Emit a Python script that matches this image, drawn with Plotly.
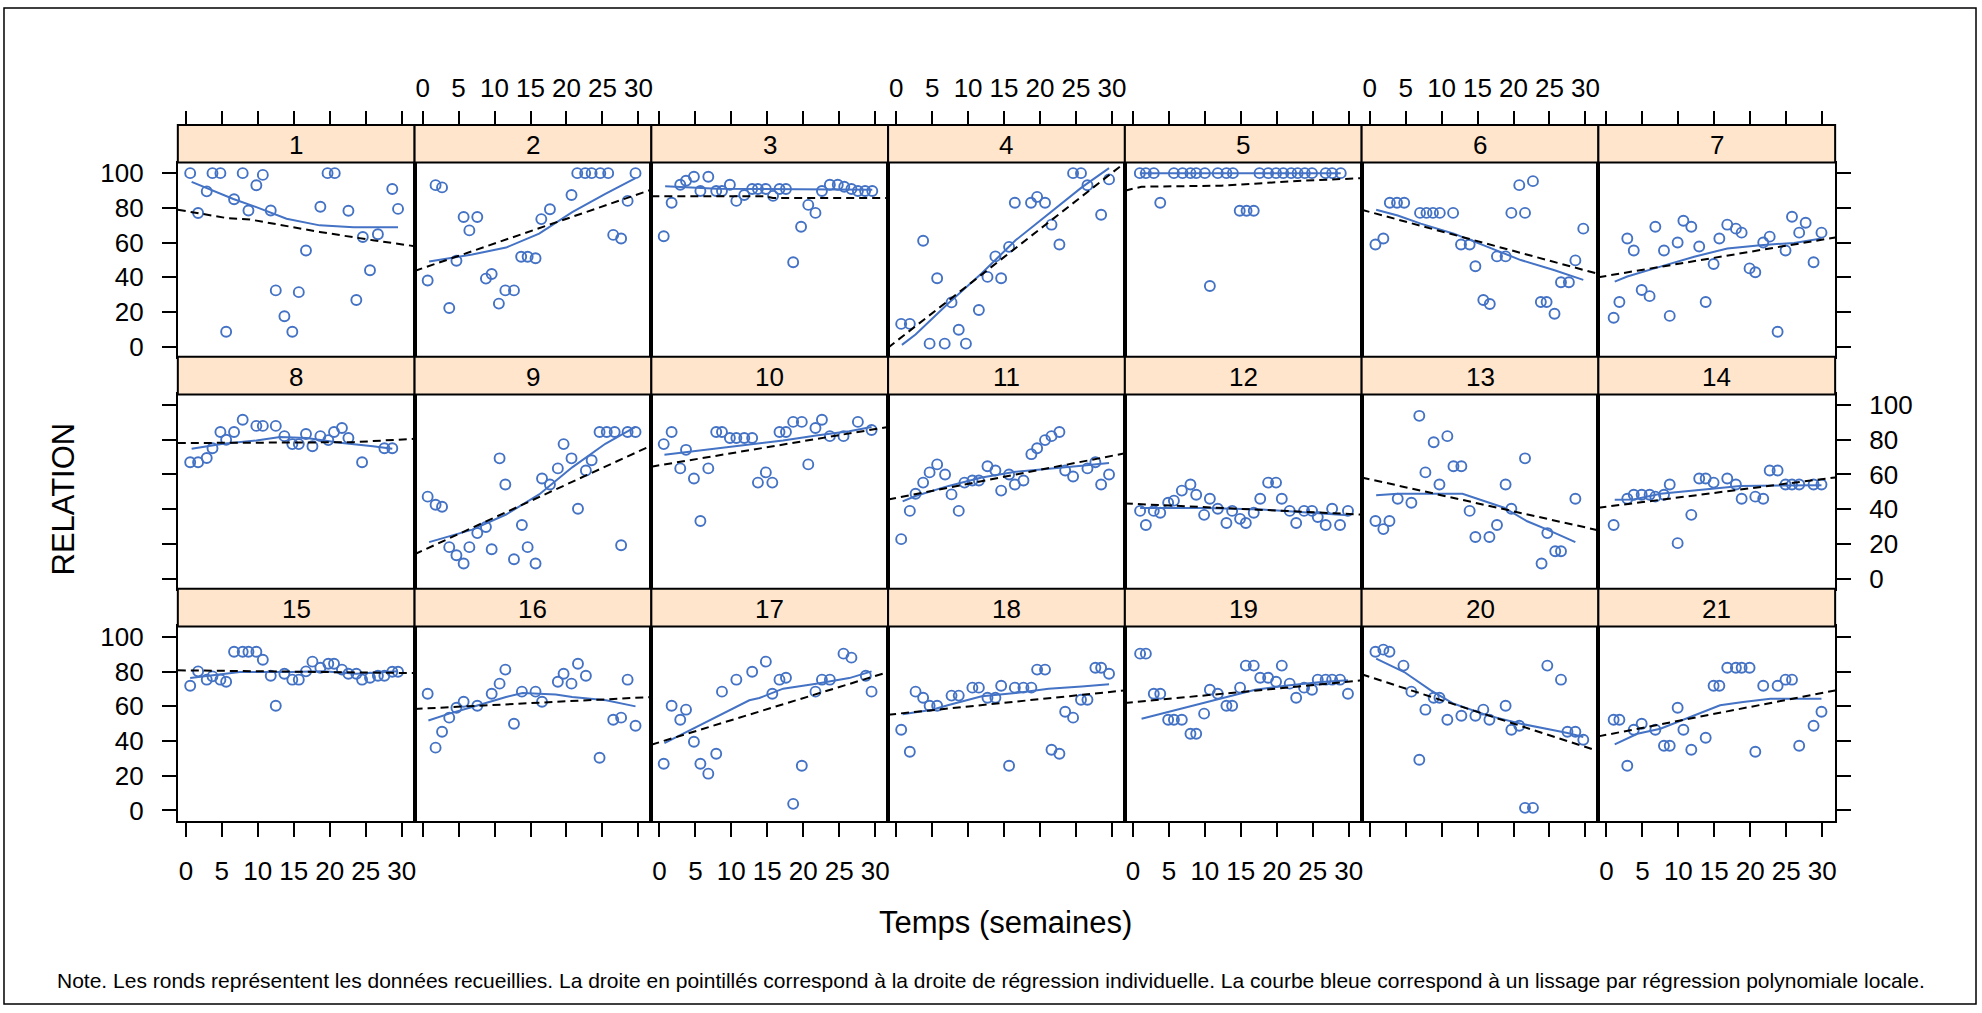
import plotly.graph_objects as go

# ---------------- data ----------------
t01 = [0.6,1.7,2.9,3.7,4.8,5.6,6.7,7.9,8.7,9.8,10.7,11.8,12.5,13.7,14.8,15.7,16.7,18.7,19.7,20.7,22.6,23.7,24.6,25.6,26.7,28.7,29.5]
r01 = [100,77,89.5,100,100,8.6,85,100,78.5,93,99,78.5,32.4,17.5,8.6,31.4,55.4,80.6,100,100,78.3,26.9,63.2,44,64.8,90.9,79.4]
lt01 = [0.8,2.9,6.6,9.8,14,18.6,23.3,29.5]
lr01 = [95,91.4,85.1,80.4,73.7,69.9,68.8,68.8]
dt01 = [-1.12,5.7,8.9,18.6,26,31.8]
dr01 = [78.9,74.1,73.3,66.1,61.3,57.9]

t02 = [0.7,1.8,2.7,3.7,4.7,5.7,6.5,7.6,8.8,9.6,10.6,11.5,12.7,13.7,14.6,15.7,16.5,17.7,20.7,21.5,22.6,23.5,24.7,25.8,26.5,27.6,28.5,29.6]
r02 = [38.1,93.1,91.8,22.3,49.5,74.7,67,74.7,39.2,41.9,24.8,32.4,32.4,51.8,51.8,50.9,73.5,79.2,87.4,100,100,100,100,100,64.4,62.3,84,100]
lt02 = [0.9,4.6,6.9,11.6,16.2,20.8,25.4,29.6]
lr02 = [49.1,51.8,53.1,57.1,65.1,77.5,88,97.1]
dt02 = [-1.12,31.8]
dr02 = [43.6,90.5]

t03 = [0.6,1.7,2.9,3.7,4.8,5.7,6.8,7.9,8.7,9.8,10.7,11.8,12.9,13.7,14.8,15.8,16.7,17.6,18.6,19.7,20.7,21.7,22.6,23.7,24.8,25.7,26.7,27.6,28.6,29.6]
r03 = [63.6,82.9,93.3,95.6,97.9,89.7,97.9,89.7,89.7,93.3,84,87.4,90.9,90.9,90.9,86.9,90.9,90.9,48.6,69.1,81.7,77.1,89.7,93.3,93.3,92.2,90.9,89.7,89.7,89.7]
lt03 = [0.8,8,29.6]
lr03 = [92.4,91,90.5]
dt03 = [-1.12,14.5,15.8,31.8]
dr03 = [86.7,86.7,85.7,85.7]

t04 = [0.7,1.9,3.75,4.65,5.7,6.75,7.7,8.7,9.7,11.5,12.7,13.8,14.6,15.7,16.5,18.75,19.6,20.7,21.6,22.7,24.6,25.7,26.6,28.5,29.6]
r04 = [13.1,13.1,61,1.7,39.4,1.7,25.5,9.7,1.7,21.1,40.2,52,39.4,57.5,82.9,82.9,86.3,82.9,70.3,58.9,100,100,93,76,96.4]
lt04 = [0.8,2.7,7.3,11.9,16.6,21.2,25.8,29.6]
lr04 = [1,7,25.1,42.3,61.3,76.6,91.8,102.9]
dt04 = [-1.12,31.8]
dr04 = [-0.6,106]

t05 = [0.96,1.8,2.9,3.8,5.7,6.9,8.0,8.8,10.0,10.7,11.8,13.0,13.9,14.85,15.8,16.8,17.6,18.8,19.9,20.9,22.0,22.9,23.9,24.9,26.8,27.7,28.9]
r05 = [100,100,100,82.9,100,100,100,100,100,34.9,100,100,100,78.3,78.3,78.3,100,100,100,100,100,100,100,100,100,100,100]
lt05 = [0.96,28.9]
lr05 = [100,100]
dt05 = [-1.12,1.2,12.3,23.4,31.8]
dr05 = [89.9,92.2,92.8,95.6,97.1]

t06 = [0.8,1.9,2.8,3.8,4.8,7.0,7.9,8.8,9.75,11.6,12.7,13.9,14.7,15.8,16.7,17.7,18.9,19.7,20.8,21.6,22.7,23.8,24.6,25.7,26.6,27.7,28.6,29.7]
r06 = [58.9,62.3,82.9,82.9,82.9,77.1,77.1,77.1,77.1,77.1,58.9,58.9,46.3,26.9,24.6,52,52,77.1,93.1,77.1,95.4,25.7,25.7,18.9,37.1,37.1,49.7,68]
lt06 = [0.9,3.9,7.1,11.7,16.4,21,25.6,29.7]
lr06 = [78.9,75.6,70.9,65.1,57.5,49.9,44.2,38.5]
dt06 = [-1.12,31.8]
dr06 = [78.9,41.9]

t07 = [1.0,1.8,2.9,3.8,4.9,6.0,6.8,8.0,8.8,9.9,10.7,11.8,12.9,13.8,14.9,15.7,16.8,18.0,18.8,19.9,20.7,21.8,22.7,23.8,24.9,25.8,26.8,27.7,28.8,29.9]
r07 = [16.6,25.7,62.3,55.4,32.6,29.1,69.1,55.4,17.7,60,72.6,69.1,57.7,25.7,47.6,62.3,70.3,68,65.7,45.1,42.9,60,63.4,8.6,55.4,74.9,65.7,71.4,48.6,65.7]
lt07 = [1.15,2.9,7.5,12.2,16.8,21.4,26.1,29.9]
lr07 = [37.5,40.4,46.1,51.8,56.6,58.5,59.8,62.3]
dt07 = [-1.12,31.8]
dr07 = [40,62.9]

t08 = [0.6,1.7,2.9,3.7,4.8,5.6,6.7,7.9,9.8,10.7,12.5,13.7,14.8,15.7,16.7,17.6,18.7,19.8,20.6,21.7,22.6,24.5,27.6,28.7]
r08 = [67,67,69.5,75.1,84.5,80,84.5,91.5,88,88,88,82.1,77.5,77.5,83.3,76.3,82.1,79.8,84.5,86.8,81,67,75.1,75.1]
lt08 = [0.8,5.2,9.8,13.1,16.8,21.4,26,28.7]
lr08 = [74.8,77.7,79.6,81.6,81,78.3,76.3,74.8]
dt08 = [-1.12,23.3,31.8]
dr08 = [78.1,78.6,80.6]

t09 = [0.7,1.8,2.7,3.7,4.7,5.7,6.5,7.6,8.8,9.6,10.7,11.5,12.7,13.8,14.6,15.7,16.6,17.7,18.8,19.6,20.7,21.6,22.7,23.5,24.6,25.6,26.7,27.6,28.5,29.6]
r09 = [47.2,42.5,41.4,18.1,13.4,8.7,18.1,26.2,29.7,16.9,69.3,54.2,11.1,30.9,18.1,8.7,57.7,54.2,63.5,77.5,69.3,40.2,62.3,68.2,84.5,84.5,84.5,19.2,84.5,84.5]
lt09 = [0.9,3.7,6.9,11.6,16.2,20.8,25.4,29.6]
lr09 = [21,24.3,28.2,36.9,48.5,64.1,77.7,87.4]
dt09 = [-1.12,31.8]
dr09 = [14,76.7]

t10 = [0.6,1.7,2.9,3.7,4.8,5.7,6.8,7.9,8.7,9.8,10.7,11.8,12.9,13.7,14.8,15.7,16.7,17.6,18.6,19.8,20.7,21.7,22.6,23.7,25.6,27.6,29.5]
r10 = [77.5,84.5,63.5,74.2,57.7,33.2,63.5,84.5,84.5,81,81,81,81,55.3,61.2,55.3,84.5,84.5,90.3,90.3,65.8,86.8,91.5,82.1,82.1,90.3,85.6]
lt10 = [0.7,3.7,7.0,12.5,17.2,21.8,26.4,29.5]
lr10 = [71.3,72.8,74.4,77.1,79.6,82.5,84.9,87.4]
dt10 = [-1.12,31.8]
dr10 = [64.5,87.4]

t11 = [0.7,1.9,2.7,3.75,4.65,5.7,6.8,7.7,8.7,9.5,10.6,11.5,12.7,13.8,14.6,15.7,16.5,17.7,18.8,19.6,20.7,21.6,22.7,23.5,24.6,26.6,27.7,28.5,29.6]
r11 = [22.7,39,48.9,55.3,61.2,65.8,60,48.5,39,55.3,56.5,56.5,64.7,62.3,50.7,60,54.2,56.5,71.7,75.1,79.8,82.1,84.5,62.3,58.8,63.5,67,54.2,60]
lt11 = [0.9,2.7,7.3,11.9,16.6,21.2,25.8,29.6]
lr11 = [44.5,47.6,53.4,58.3,61.6,63.1,65,66.6]
dt11 = [-1.12,31.8]
dr11 = [45.6,72.2]

t12 = [1.0,1.8,2.9,3.8,4.9,5.7,6.8,8.0,8.8,9.9,10.7,11.8,13.0,13.8,14.9,15.7,16.8,17.7,18.8,19.9,20.7,21.8,22.7,23.8,24.9,25.7,26.8,27.7,28.8,29.9]
r12 = [39,30.9,39,37.9,43.7,44.9,50.7,54.2,48.3,36.7,46,40.2,32,39,34.4,32,37.9,46,55.3,55.3,46,39,32,39,39,35.5,30.9,40.2,30.9,39]
lt12 = [1.0,10,18,22,29.9]
lr12 = [40.6,40.6,39.8,38.6,36.5]
dt12 = [-1.12,31.8]
dr12 = [43.3,36.9]

t13 = [0.8,1.9,2.75,3.9,5.8,6.9,7.75,8.9,9.7,10.8,11.65,12.75,13.9,14.7,16.65,17.7,18.9,19.7,21.6,23.9,24.7,25.8,26.6,28.6]
r13 = [33.2,28.5,33.2,46,43.7,93.8,61.2,78.6,54.2,82.1,64.7,64.7,39,23.9,23.9,30.9,54.2,40.2,69.3,8.7,26.2,15.7,15.7,46]
lt13 = [0.9,3.9,12.9,15.4,18.7,21.9,24.7,28.6]
lr13 = [48,48.9,48.9,45.6,40.8,33,28.2,21]
dt13 = [-1.12,31.8]
dr13 = [58.3,27.8]

t14 = [1.0,2.9,3.8,4.9,6.0,6.8,8.0,8.8,9.9,11.8,12.9,13.8,14.9,16.8,18.0,18.8,20.7,21.8,22.7,23.8,24.9,25.8,26.8,28.8,29.9]
r14 = [30.9,46,48.3,48.3,48.3,47.2,48.3,54.2,20.4,36.7,57.7,57.7,55.3,57.7,54.2,46,47.2,46,62.3,62.3,54.2,54.2,54.2,54.2,54.2]
lt14 = [1.15,3.8,7.5,11.7,12.6,18.6,29.9]
lr14 = [45.4,45.6,48.9,50.5,51.1,53.4,53.8]
dt14 = [-1.12,31.8]
dr14 = [40.8,58.3]

t15 = [0.6,1.7,2.9,3.7,4.8,5.6,6.7,7.9,8.7,9.8,10.7,11.8,12.5,13.7,14.8,15.7,16.7,17.6,18.7,19.8,20.6,21.7,22.6,23.7,24.5,25.6,26.7,27.6,28.7,29.5]
r15 = [71.9,80.2,75.4,77.3,75.4,74.2,91.5,91.5,91.5,91.5,86.9,77.7,60.4,78.8,75.4,75.4,80.2,85.8,82.3,84.6,84.6,81.2,78.8,78.8,75.4,76.5,77.7,77.7,80,80]
lt15 = [0.6,5.2,7.5,14.5,19.1,23.7,29.5]
lr15 = [76.3,78.8,79.8,79.8,80.2,78.8,80.2]
dt15 = [-1.12,31.8]
dr15 = [80.8,79.2]

t16 = [0.7,1.8,2.7,3.7,4.7,5.7,7.6,9.6,10.7,11.5,12.7,13.8,15.7,16.6,18.8,19.6,20.7,21.6,22.7,24.6,26.5,27.6,28.5,29.6]
r16 = [67.3,36.2,45.4,53.5,59.2,62.7,60.4,67.3,73.1,81.2,50,68.5,68.5,62.7,74.2,78.8,73.1,84.6,77.7,30.4,52.3,53.5,75.4,48.8]
lt16 = [0.8,3.7,6.9,11.6,13.9,18.5,20.8,25.5,29.6]
lr16 = [51.9,55.8,59.6,65.4,67.7,66.9,65.4,63.5,60]
dt16 = [-1.12,31.8]
dr16 = [58.5,65.4]

t17 = [0.6,1.7,2.9,3.7,4.8,5.7,6.8,7.9,8.7,10.7,12.9,14.8,15.7,16.7,17.6,18.6,19.8,21.7,22.6,23.7,25.6,26.7,28.7,29.5]
r17 = [26.9,60.4,52.3,58.1,39.6,26.9,21.2,32.7,68.5,75.4,80,85.8,67.3,75.4,76.5,3.8,25.8,68.5,75.4,75.4,90.4,88.1,77.7,68.5]
lt17 = [0.7,3.3,7.9,12.5,13.9,17.2,21.8,26.4,29.5]
lr17 = [38.8,44.2,53.8,63.5,64.8,70.2,73.1,76.3,80.2]
dt17 = [-1.12,31.8]
dr17 = [37.9,79.8]

t18 = [0.7,1.9,2.7,3.75,4.65,5.7,7.7,8.7,10.6,11.5,12.7,13.8,14.6,15.7,16.5,17.7,18.8,19.6,20.7,21.6,22.7,23.5,24.6,25.7,26.6,27.7,28.5,29.6]
r18 = [46.5,33.8,68.5,65,60.4,60.4,66.2,66.2,70.8,70.8,65,65,71.9,25.8,70.8,70.8,70.8,81.2,81.2,35,32.7,56.9,53.5,63.8,63.8,82.3,82.3,78.8]
lt18 = [0.9,5.0,7.3,11.9,16.6,21.2,25.8,29.6]
lr18 = [55.4,58.1,60.8,65.8,67.7,70.2,71.5,72.7]
dt18 = [-1.12,31.8]
dr18 = [55.2,69.2]

t19 = [1.0,1.8,2.9,3.8,4.9,5.7,6.8,8.0,8.8,9.9,10.7,11.8,13.0,13.8,14.9,15.7,16.8,17.7,18.8,19.9,20.7,21.8,22.7,23.8,24.9,25.7,26.8,27.7,28.8,29.9]
r19 = [90.4,90.4,67.3,67.3,52.3,52.3,52.3,44.2,44.2,55.8,69.6,67.3,60.4,60.4,70.8,83.5,83.5,76.5,76.5,74.2,83.5,73.1,65,70.8,69.6,75.4,75.4,75.4,75.4,67.3]
lt19 = [1.2,7.7,12.3,17,21.5,26.2,29.9]
lr19 = [52.9,59.6,64.4,69.6,72.1,74,75]
dt19 = [-1.12,31.8]
dr19 = [61.9,75]

t20 = [0.8,1.9,2.75,4.7,5.8,6.9,7.75,8.9,9.7,10.8,12.75,14.7,15.8,16.65,18.9,19.7,20.8,21.6,22.7,24.7,26.6,27.5,28.6,29.7]
r20 = [91.5,92.7,91.5,83.5,68.5,29.2,58.1,65,65,52.3,54.6,54.6,58.1,52.3,60.4,46.5,48.8,1.5,1.5,83.5,75.4,45.4,45.4,40.8]
lt20 = [0.9,4.8,8.5,11.7,16.4,21,25.6,27.5,29.7]
lr20 = [87.5,79.8,69.2,61.5,54.8,50,46.2,44.6,42.3]
dt20 = [-1.12,31.8]
dr20 = [78.5,34.2]

t21 = [1.0,1.8,2.9,3.8,4.9,6.8,8.0,8.8,9.9,10.7,11.8,13.8,14.9,15.7,16.8,18.0,18.8,19.9,20.7,21.8,23.8,24.9,25.8,26.8,28.8,29.9]
r21 = [52.3,52.3,25.8,46.5,50,46.5,37.3,37.3,59.2,46.5,35,41.9,71.9,71.9,82.3,82.3,82.3,82.3,33.8,71.9,71.9,75.4,75.4,37.3,48.8,56.9]
lt21 = [1.15,4.3,7.5,12.2,15.8,19,22.8,29.9]
lr21 = [38.1,44.2,47.1,54.8,60.6,62.5,64.4,64.4]
dt21 = [-1.12,31.8]
dr21 = [42.7,69.2]

panel_labels = [str(i) for i in range(1, 22)]
x_ticks = [0, 5, 10, 15, 20, 25, 30]
y_ticks = [0, 20, 40, 60, 80, 100]
x_title = "Temps (semaines)"
y_title = "RELATION"
note = ("Note. Les ronds représentent les données recueillies. La droite en pointillés correspond à la droite "
        "de régression individuelle. La courbe bleue correspond à un lissage par régression polynomiale locale.")

PANELS = [
    (t01, r01, lt01, lr01, dt01, dr01), (t02, r02, lt02, lr02, dt02, dr02),
    (t03, r03, lt03, lr03, dt03, dr03), (t04, r04, lt04, lr04, dt04, dr04),
    (t05, r05, lt05, lr05, dt05, dr05), (t06, r06, lt06, lr06, dt06, dr06),
    (t07, r07, lt07, lr07, dt07, dr07), (t08, r08, lt08, lr08, dt08, dr08),
    (t09, r09, lt09, lr09, dt09, dr09), (t10, r10, lt10, lr10, dt10, dr10),
    (t11, r11, lt11, lr11, dt11, dr11), (t12, r12, lt12, lr12, dt12, dr12),
    (t13, r13, lt13, lr13, dt13, dr13), (t14, r14, lt14, lr14, dt14, dr14),
    (t15, r15, lt15, lr15, dt15, dr15), (t16, r16, lt16, lr16, dt16, dr16),
    (t17, r17, lt17, lr17, dt17, dr17), (t18, r18, lt18, lr18, dt18, dr18),
    (t19, r19, lt19, lr19, dt19, dr19), (t20, r20, lt20, lr20, dt20, dr20),
    (t21, r21, lt21, lr21, dt21, dr21),
]

# ---------------- layout / style ----------------
W, H = 1982, 1013
PX0, PWID = 178, 237
STRIP_TOPS = [122, 356, 590]
STRIP_H, PANEL_H = 38, 196
XR = [-1.12, 31.8]
YR = [-5.9, 106.1]
BLUE = "#4472C4"
STRIP_FILL = "#FFE5CC"
FONT = "Liberation Sans, Arial, sans-serif"
TICK_SIZE = 26
TICKLEN = 14


def fx(px):
    return px / W


def fy(py):
    return 1 - py / H


fig = go.Figure()
layout = dict(
    width=W, height=H, margin=dict(l=0, r=0, t=0, b=0, pad=0),
    paper_bgcolor="white", plot_bgcolor="white", showlegend=False,
    font=dict(family=FONT, color="black", size=TICK_SIZE),
    shapes=[], annotations=[],
)

for i, (t, r, lt, lr, dt, dr) in enumerate(PANELS):
    row, col = divmod(i, 7)
    k = i + 1
    xa = "x" if k == 1 else f"x{k}"
    ya = "y" if k == 1 else f"y{k}"
    x0 = PX0 + col * PWID
    x1 = x0 + PWID
    st = STRIP_TOPS[row]
    pt = st + STRIP_H
    pb = pt + PANEL_H

    fig.add_trace(go.Scatter(x=t, y=r, mode="markers", xaxis=xa, yaxis=ya,
                             marker=dict(symbol="circle-open", size=10, color=BLUE,
                                         line=dict(width=1.9, color=BLUE)),
                             hoverinfo="skip"))
    fig.add_trace(go.Scatter(x=lt, y=lr, mode="lines", xaxis=xa, yaxis=ya,
                             line=dict(color=BLUE, width=2), hoverinfo="skip"))
    fig.add_trace(go.Scatter(x=dt, y=dr, mode="lines", xaxis=xa, yaxis=ya,
                             line=dict(color="black", width=2, dash="8px,5px"), hoverinfo="skip"))

    bottom_row = row == 2
    layout["xaxis" if k == 1 else f"xaxis{k}"] = dict(
        domain=[fx(x0), fx(x1)], anchor=ya, range=XR, showgrid=False, zeroline=False,
        showline=True, mirror=True, linecolor="black", linewidth=2,
        tickvals=x_ticks, ticks="outside" if bottom_row else "", ticklen=TICKLEN,
        tickwidth=2, tickcolor="black",
        showticklabels=bottom_row and col % 2 == 0,
        tickfont=dict(size=TICK_SIZE, family=FONT, color="black"),
        ticklabelstandoff=12,
    )
    has_yticks = col in (0, 6)
    ylab = (col == 0 and row != 1) or (col == 6 and row == 1)
    layout["yaxis" if k == 1 else f"yaxis{k}"] = dict(
        domain=[fy(pb), fy(pt)], anchor=xa, range=YR, showgrid=False, zeroline=False,
        showline=True, mirror=True, linecolor="black", linewidth=2,
        side="right" if col == 6 else "left",
        tickvals=y_ticks, ticks="outside" if has_yticks else "", ticklen=TICKLEN,
        tickwidth=2, tickcolor="black", showticklabels=ylab,
        tickfont=dict(size=TICK_SIZE, family=FONT, color="black"),
        ticklabelstandoff=13,
    )

    # strip
    layout["shapes"].append(dict(type="rect", xref="paper", yref="paper",
                                 x0=fx(x0), x1=fx(x1), y0=fy(pt), y1=fy(st),
                                 fillcolor=STRIP_FILL, line=dict(color="black", width=2)))
    layout["annotations"].append(dict(text=panel_labels[i], xref="paper", yref="paper",
                                      x=fx((x0 + x1) / 2), y=fy(st + STRIP_H / 2 + 1),
                                      xanchor="center", yanchor="middle", showarrow=False,
                                      font=dict(size=TICK_SIZE, family=FONT, color="black")))

    # top axis (above strip) for the first row
    if row == 0:
        kk = 22 + col
        fig.add_trace(go.Scatter(x=[], y=[], xaxis=f"x{kk}", yaxis=ya, hoverinfo="skip"))
        layout[f"xaxis{kk}"] = dict(
            overlaying=xa, anchor="free", position=fy(st), side="top", range=XR,
            showgrid=False, zeroline=False, showline=False,
            tickvals=x_ticks, ticks="outside", ticklen=TICKLEN, tickwidth=2, tickcolor="black",
            showticklabels=col % 2 == 1,
            tickfont=dict(size=TICK_SIZE, family=FONT, color="black"),
            ticklabelstandoff=4,
        )

# titles and note
layout["annotations"].append(dict(text=y_title, xref="paper", yref="paper", x=fx(64), y=fy(499),
                                  textangle=-90, showarrow=False, xanchor="center", yanchor="middle",
                                  font=dict(size=31, family=FONT, color="black")))
layout["annotations"].append(dict(text=x_title, xref="paper", yref="paper", x=fx(1007), y=fy(927),
                                  showarrow=False, xanchor="center", yanchor="middle",
                                  font=dict(size=31, family=FONT, color="black")))
layout["annotations"].append(dict(text=note, xref="paper", yref="paper", x=fx(992), y=fy(985),
                                  showarrow=False, xanchor="center", yanchor="middle",
                                  font=dict(size=21, family=FONT, color="black")))
# outer frame
layout["shapes"].append(dict(type="rect", xref="paper", yref="paper",
                             x0=fx(4), x1=fx(1978), y0=fy(1009), y1=fy(4),
                             line=dict(color="black", width=1.5)))

fig.update_layout(**layout)
fig.write_html("out.html", config={"displayModeBar": False},
               post_script="document.body.style.margin='0';document.body.style.overflow='hidden';")
